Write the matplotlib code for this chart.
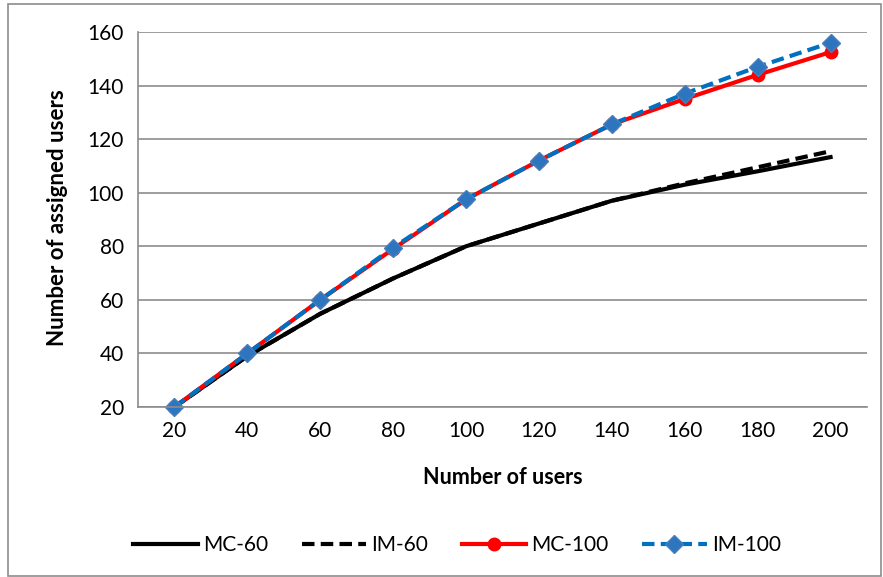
import numpy as np
import matplotlib.pyplot as plt
from matplotlib.patches import Rectangle

plt.rcParams['font.family'] = ['Lato', 'DejaVu Sans']

# data
users = [20, 40, 60, 80, 100, 120, 140, 160, 180, 200]
mc_60 = [20, 39, 54.8, 68, 80, 88.5, 97, 103, 108, 113.3]
im_60 = [20, 39, 54.8, 68, 80, 88.5, 97, 103.5, 109.5, 115.5]
mc_100 = [20, 40, 60, 79, 97.5, 112, 125.5, 135, 144, 152.5]
im_100 = [20, 40, 60, 79.5, 97.5, 112, 125.5, 137, 147, 156]
yticks = [20, 40, 60, 80, 100, 120, 140, 160]

fig = plt.figure(figsize=(8.83, 5.77), dpi=100)
ax = fig.add_axes([138/883, 1-407/577, (867-138)/883, (407-32)/577])

x = np.arange(len(users))
ax.plot(x, mc_60, color='black', lw=3, label='MC-60', clip_on=False)
ax.plot(x, im_60, color='black', lw=3, ls=(0, (3, 1.5)), label='IM-60', clip_on=False)
ax.plot(x, mc_100, color='#ff0000', lw=3, marker='o', ms=9, label='MC-100', clip_on=False)
ax.plot(x, im_100, color='#0070c0', lw=3, ls=(0, (3, 1.5)), marker='D',
        ms=9, mfc='#2e75c0', mec='#4a7ebb', label='IM-100', clip_on=False)

ax.set_xlim(-0.5, len(users) - 0.5)
ax.set_ylim(20, 160)
ax.set_xticks(x)
ax.set_xticklabels([str(u) for u in users])
ax.set_yticks(yticks)
ax.tick_params(length=0, labelsize=15, pad=10)
ax.grid(axis='y', color='#8c8c8c', lw=1.2)
ax.set_axisbelow(True)
for s in ['top', 'right']:
    ax.spines[s].set_visible(False)
for s in ['left', 'bottom']:
    ax.spines[s].set_color('#8c8c8c')
    ax.spines[s].set_linewidth(1.2)

fig.text(503/883, 1-477/577, 'Number of users', ha='center', va='center',
         fontsize=15.5, fontweight='bold')
fig.text(58/883, 1-218/577, 'Number of assigned users', ha='center', va='center',
         rotation=90, fontsize=16, fontweight='bold')

fig.legend(loc='center', bbox_to_anchor=(457/883, 1-545/577), ncol=4,
           frameon=False, fontsize=15, handlelength=3.1, handletextpad=0.25,
           columnspacing=1.6)

fig.patches.append(Rectangle((8/883, 0.002), 1-8/883-0.002, 1-4/577-0.002,
                             transform=fig.transFigure, fill=False,
                             edgecolor='#8c8c8c', lw=1.2))

fig.savefig('out.png', dpi=100)
